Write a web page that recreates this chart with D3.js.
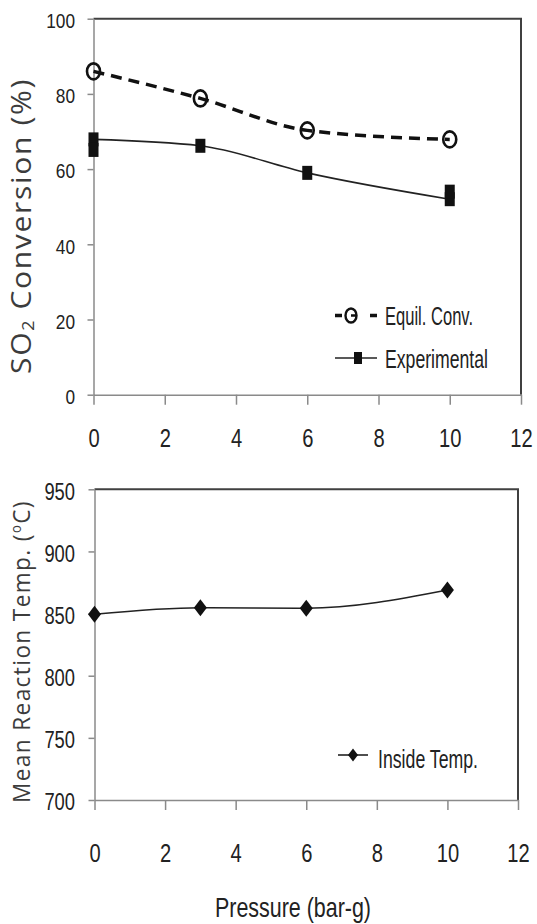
<!DOCTYPE html>
<html><head><meta charset="utf-8">
<script src="https://cdn.jsdelivr.net/npm/d3@7"></script>
<style>body{margin:0;background:#fff} svg{display:block}</style>
</head><body>
<svg id="chart" width="537" height="924"></svg>
<script>
// ---- data ----
const pressure = [0, 3, 6, 10];
const equilConv = [86, 78.8, 70.3, 67.9];
const expConv = [67.9, 66.2, 59.0, 52.0];
const expReplicateX = [0, 10];
const expReplicateY = [65.1, 54.0];
const insideTemp = [849.5, 854.7, 854.3, 869];
const xTicks = [0, 2, 4, 6, 8, 10, 12];
const convTicks = [0, 20, 40, 60, 80, 100];
const tempTicks = [700, 750, 800, 850, 900, 950];
const legendTop = ["Equil. Conv.", "Experimental"];
const legendBottom = ["Inside Temp."];
const xTitle = "Pressure (bar-g)";

const svg = d3.select("#chart");
const NARROW = "'Liberation Sans', Arial, sans-serif";
const TITLEF = "'Open Sans', 'Noto Sans', sans-serif";
const AXIS_C = "#8a8a8a", FRAME_C = "#404040", INK = "#111";

function styleTicks(g, fs, perChar) {
  g.select(".domain").attr("stroke", AXIS_C).attr("stroke-width", 1.5);
  g.selectAll(".tick line").attr("stroke", AXIS_C).attr("stroke-width", 1.5);
  g.selectAll(".tick text")
    .attr("font-family", NARROW).attr("font-size", fs).attr("fill", "#222")
    .attr("textLength", d => String(d).length * perChar)
    .attr("lengthAdjust", "spacingAndGlyphs");
}

function panel(cfg) {
  const x = d3.scaleLinear([0, 12], cfg.xr);
  const y = d3.scaleLinear(cfg.yd, cfg.yr);
  svg.append("path")
    .attr("d", `M${x(0)},${y(cfg.yd[1])}H${x(12)}V${y(cfg.yd[0])}`)
    .attr("fill", "none").attr("stroke", FRAME_C).attr("stroke-width", 2);
  const gy = svg.append("g").attr("transform", `translate(${x(0)},0)`)
    .call(d3.axisLeft(y).tickValues(cfg.yTicks).tickSize(6).tickSizeOuter(0).tickPadding(cfg.yPad));
  styleTicks(gy, cfg.yFs, cfg.yChar);
  gy.selectAll(".tick text").attr("dy", "0.42em");
  const gx = svg.append("g").attr("transform", `translate(0,${y(cfg.yd[0])})`)
    .call(d3.axisBottom(x).tickValues(xTicks).tickSize(10).tickSizeOuter(0).tickPadding(cfg.xPad));
  styleTicks(gx, cfg.xFs, cfg.xChar);
  return {x, y};
}

// rotated title: fit its rendered length to `len`, centred at (bx, cy)
function rotTitle(parts, fs, bx, cy, len) {
  const g = svg.append("g");
  const t = g.append("text").attr("text-anchor", "middle").attr("font-family", TITLEF)
    .attr("font-size", fs).attr("fill", "#3c3c3c").attr("letter-spacing", 1.5);
  parts.forEach(p => {
    const s = t.append("tspan").text(p.t);
    if (p.fs) s.attr("font-size", p.fs);
    if (p.dy) s.attr("dy", p.dy);
  });
  const bb = t.node().getBBox();
  const k = len / bb.width;
  const mid = bb.x + bb.width / 2;
  g.attr("transform", `translate(${bx},${cy}) rotate(-90) scale(${k},1) translate(${-mid},0)`);
}

// ---------- top panel ----------
const pTop = panel({xr: [93.5, 521], yd: [0, 100], yr: [394.7, 18.7], yTicks: convTicks,
  yPad: 12.5, yFs: 21, yChar: 9.6, xPad: 25, xFs: 25, xChar: 11.2});

const equilLine = d3.line().x((d, i) => pTop.x(pressure[i])).y(d => pTop.y(d)).curve(d3.curveMonotoneX);
svg.append("path").attr("d", equilLine(equilConv))
  .attr("fill", "none").attr("stroke", INK).attr("stroke-width", 3.5).attr("stroke-dasharray", "11,7");
const expLine = d3.line().x((d, i) => pTop.x(pressure[i])).y(d => pTop.y(d)).curve(d3.curveMonotoneX);
svg.append("path").attr("d", expLine(expConv))
  .attr("fill", "none").attr("stroke", "#222").attr("stroke-width", 1.6);

svg.append("g").selectAll("ellipse").data(equilConv).join("ellipse")
  .attr("cx", (d, i) => pTop.x(pressure[i])).attr("cy", d => pTop.y(d))
  .attr("rx", 6.5).attr("ry", 8).attr("fill", "none").attr("stroke", INK).attr("stroke-width", 2.6);

const sqPts = pressure.map((p, i) => [p, expConv[i]])
  .concat(expReplicateX.map((p, i) => [p, expReplicateY[i]]));
svg.append("g").selectAll("rect").data(sqPts).join("rect")
  .attr("x", d => pTop.x(d[0]) - 5).attr("y", d => pTop.y(d[1]) - 7)
  .attr("width", 10).attr("height", 14).attr("fill", INK);

// top legend
svg.append("line").attr("x1", 335).attr("x2", 377).attr("y1", 315.5).attr("y2", 315.5)
  .attr("stroke", INK).attr("stroke-width", 3.5).attr("stroke-dasharray", "7,28");
svg.append("ellipse").attr("cx", 351).attr("cy", 315.5).attr("rx", 5.5).attr("ry", 7)
  .attr("fill", "none").attr("stroke", INK).attr("stroke-width", 2.4);
svg.append("line").attr("x1", 351).attr("x2", 356).attr("y1", 315.5).attr("y2", 315.5)
  .attr("stroke", INK).attr("stroke-width", 2.5);
svg.append("line").attr("x1", 335).attr("x2", 377).attr("y1", 358).attr("y2", 358)
  .attr("stroke", "#222").attr("stroke-width", 1.6);
svg.append("rect").attr("x", 354).attr("y", 352).attr("width", 8).attr("height", 12).attr("fill", INK);
svg.append("g").selectAll("text").data(legendTop).join("text")
  .attr("x", 385).attr("y", (d, i) => i === 0 ? 325 : 368)
  .attr("font-family", NARROW).attr("font-size", 26).attr("fill", "#222")
  .attr("textLength", (d, i) => i === 0 ? 88 : 103).attr("lengthAdjust", "spacingAndGlyphs")
  .text(d => d);

// top y title
rotTitle([{t: "SO"}, {t: "2", fs: 16, dy: 3}, {t: " Conversion (%)", dy: -3}], 27, 31, 226, 296);

// ---------- bottom panel ----------
const pBot = panel({xr: [94.5, 518], yd: [700, 950], yr: [800, 489.3], yTicks: tempTicks,
  yPad: 13.5, yFs: 23.5, yChar: 10.2, xPad: 33.5, xFs: 26, xChar: 11.2});

const tempLine = d3.line().x((d, i) => pBot.x(pressure[i])).y(d => pBot.y(d)).curve(d3.curveMonotoneX);
svg.append("path").attr("d", tempLine(insideTemp))
  .attr("fill", "none").attr("stroke", "#222").attr("stroke-width", 1.6);
const diamond = (cx, cy, w, h) => `M${cx},${cy - h}L${cx + w},${cy}L${cx},${cy + h}L${cx - w},${cy}Z`;
svg.append("g").selectAll("path").data(insideTemp).join("path")
  .attr("d", (d, i) => diamond(pBot.x(pressure[i]), pBot.y(d), 6.5, 8.5)).attr("fill", INK);

// bottom legend
svg.append("line").attr("x1", 338).attr("x2", 368).attr("y1", 755).attr("y2", 755)
  .attr("stroke", "#222").attr("stroke-width", 1.6);
svg.append("path").attr("d", diamond(353, 755, 5, 6.5)).attr("fill", INK);
svg.append("g").selectAll("text").data(legendBottom).join("text")
  .attr("x", 378).attr("y", 768)
  .attr("font-family", NARROW).attr("font-size", 26).attr("fill", "#222")
  .attr("textLength", 100).attr("lengthAdjust", "spacingAndGlyphs").text(d => d);

// bottom y title
rotTitle([{t: "Mean Reaction Temp. ("}, {t: "o", fs: 14, dy: -9}, {t: "C)", dy: 9}], 24, 30, 651.5, 303);

// x title
svg.append("text").attr("x", 293).attr("y", 917).attr("text-anchor", "middle")
  .attr("font-family", NARROW).attr("font-size", 28).attr("fill", "#222")
  .attr("textLength", 156).attr("lengthAdjust", "spacingAndGlyphs").text(xTitle);
</script>
</body></html>
